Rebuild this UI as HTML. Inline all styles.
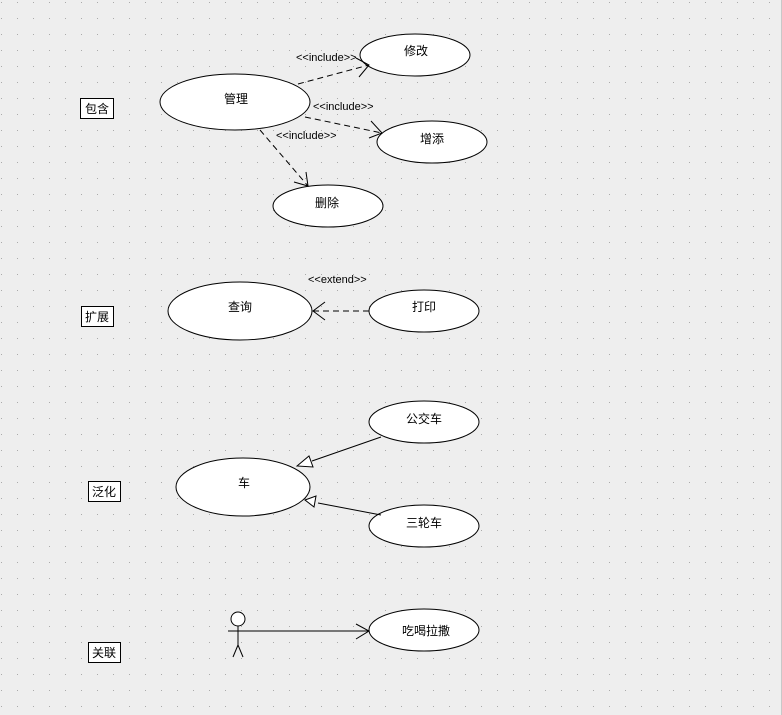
<!DOCTYPE html>
<html><head><meta charset="utf-8"><style>
body{margin:0;width:782px;height:715px;overflow:hidden;background:#eeeeee;}
svg{display:block}
text{font-family:"Liberation Sans","Noto Sans CJK SC",sans-serif;font-size:12px;fill:#000}
</style></head><body>
<svg width="782" height="715" xmlns="http://www.w3.org/2000/svg">
<defs>
<pattern id="g" x="1" y="2" width="16" height="16" patternUnits="userSpaceOnUse"><rect x="0" y="0" width="1" height="1" fill="#aaaaaa"/></pattern>
</defs>
<rect width="782" height="715" fill="#eeeeee"/>
<rect width="782" height="715" fill="url(#g)"/>
<line x1="781.5" y1="0" x2="781.5" y2="715" stroke="#c8c8c8"/>
<g stroke="#000" fill="#fff" stroke-width="1">
<ellipse cx="235" cy="102" rx="75" ry="28"/>
<ellipse cx="415" cy="55" rx="55" ry="21"/>
<ellipse cx="432" cy="142" rx="55" ry="21"/>
<ellipse cx="328" cy="206" rx="55" ry="21"/>
<ellipse cx="240" cy="311" rx="72" ry="29"/>
<ellipse cx="424" cy="311" rx="55" ry="21"/>
<ellipse cx="243" cy="487" rx="67" ry="29"/>
<ellipse cx="424" cy="422" rx="55" ry="21"/>
<ellipse cx="424" cy="526" rx="55" ry="21"/>
<ellipse cx="424" cy="630" rx="55" ry="21"/>
<rect x="80.5" y="98.5" width="33" height="20"/>
<rect x="81.5" y="306.5" width="32" height="20"/>
<rect x="88.5" y="481.5" width="32" height="20"/>
<rect x="88.5" y="642.5" width="32" height="20"/>
</g>
<g stroke="#000" fill="none" stroke-dasharray="6,4">
<line x1="298" y1="84" x2="369" y2="65"/>
<line x1="305" y1="117" x2="382" y2="133"/>
<line x1="260" y1="130" x2="308" y2="186"/>
<line x1="369" y1="311" x2="313" y2="311"/>
</g>
<g stroke="#000" fill="none">
<polyline points="356,58 369,65 359,77"/>
<polyline points="371,121 382,133 369,138"/>
<polyline points="294,182 308,186 306,172"/>
<polyline points="325,302 313,311 325,320"/>
<line x1="381" y1="437" x2="312" y2="461"/>
<polygon points="297,466 309,456 313,467" fill="#fff"/>
<line x1="381" y1="515" x2="318" y2="503"/>
<polygon points="305,500 316,496 314,507" fill="#fff"/>
<circle cx="238" cy="619" r="7" fill="#fff"/>
<line x1="238" y1="626" x2="238" y2="645"/>
<line x1="228" y1="631" x2="369" y2="631"/>
<line x1="238" y1="645" x2="233" y2="657"/>
<line x1="238" y1="645" x2="243" y2="657"/>
<polyline points="356,624 369,631 356,639"/>
</g>
<g>
<text x="296" y="61" style="font-size:11px">&lt;&lt;include&gt;&gt;</text>
<text x="313" y="110" style="font-size:11px">&lt;&lt;include&gt;&gt;</text>
<text x="276" y="139" style="font-size:11px">&lt;&lt;include&gt;&gt;</text>
<text x="308" y="283" style="font-size:11px">&lt;&lt;extend&gt;&gt;</text>
</g>
<g text-anchor="middle">
<text x="236" y="103">管理</text>
<text x="416" y="55">修改</text>
<text x="432" y="143">增添</text>
<text x="327" y="207">删除</text>
<text x="240" y="311">查询</text>
<text x="424" y="311">打印</text>
<text x="244" y="487">车</text>
<text x="424" y="423">公交车</text>
<text x="424" y="527">三轮车</text>
<text x="426" y="635">吃喝拉撒</text>
<text x="97" y="113">包含</text>
<text x="97" y="321">扩展</text>
<text x="104" y="496">泛化</text>
<text x="104" y="657">关联</text>
</g>
</svg>
</body></html>
